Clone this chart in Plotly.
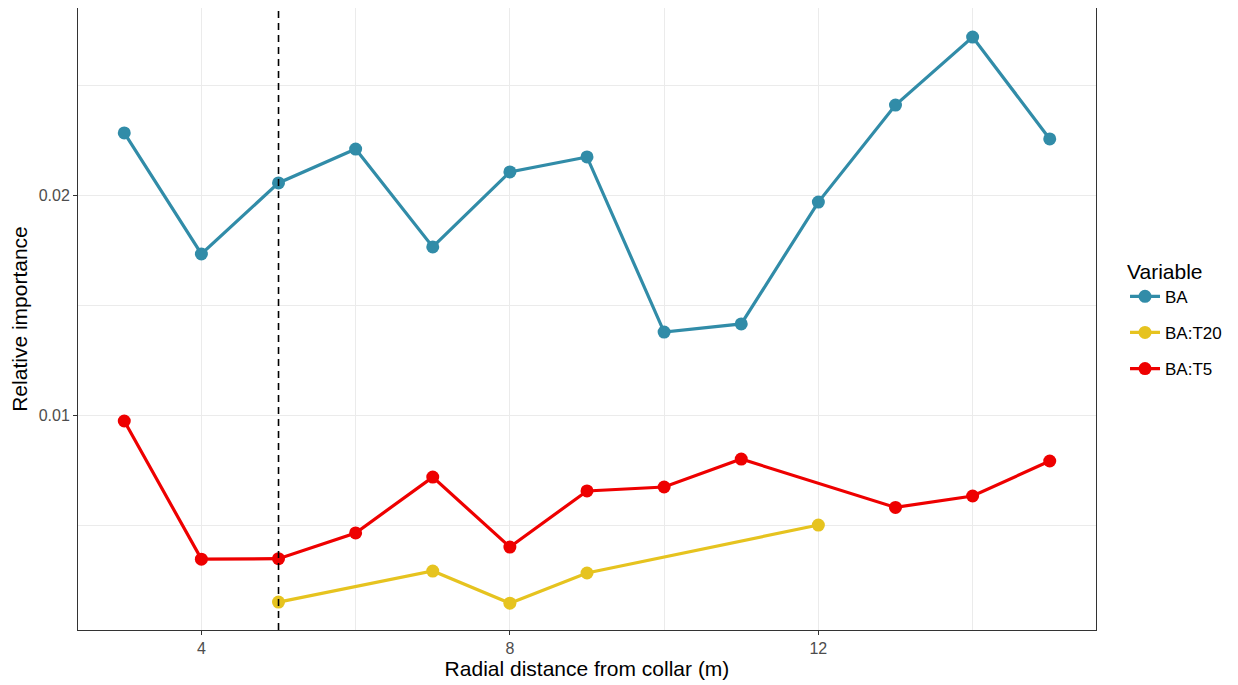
import plotly.graph_objects as go

x_ba = [3, 4, 5, 6, 7, 8, 9, 10, 11, 12, 13, 14, 15]
y_ba = [0.02282, 0.01732, 0.02055, 0.02209, 0.01764, 0.02105, 0.02173,
        0.01377, 0.01414, 0.01968, 0.02409, 0.02718, 0.02255]

x_t20 = [5, 7, 8, 9, 12]
y_t20 = [0.0015, 0.00291, 0.00145, 0.00282, 0.0050]

x_t5 = [3, 4, 5, 6, 7, 8, 9, 10, 11, 13, 14, 15]
y_t5 = [0.00973, 0.00345, 0.00347, 0.00464, 0.00718, 0.0040, 0.00655,
        0.00673, 0.0080, 0.0058, 0.00632, 0.00791]

series = [("BA", x_ba, y_ba, "#318CA8"),
          ("BA:T20", x_t20, y_t20, "#E6C31F"),
          ("BA:T5", x_t5, y_t5, "#EE0000")]

fig = go.Figure()
for name, xs, ys, col in series:
    fig.add_trace(go.Scatter(x=xs, y=ys, name=name, mode="lines+markers",
                             legendgroup=name,
                             line=dict(color=col, width=3.2),
                             marker=dict(color=col, size=13)))

fig.add_vline(x=5, line=dict(color="black", width=1.6, dash="7px,5px"))

axis_common = dict(showline=True, mirror=True, linecolor="#333333", linewidth=1,
                   ticks="outside", ticklen=4, tickcolor="#333333",
                   tickfont=dict(size=16, color="#4D4D4D"),
                   gridcolor="#EBEBEB", gridwidth=1, zeroline=False)

fig.update_layout(
    width=1238, height=685,
    margin=dict(l=70, r=150, t=0, b=63),
    plot_bgcolor="white", paper_bgcolor="white",
    font=dict(family="Liberation Sans, Arial, sans-serif", color="black"),
    xaxis=dict(range=[2.4, 15.6], tick0=0, dtick=4,
               title=dict(text="Radial distance from collar (m)", font=dict(size=21), standoff=4),
               minor=dict(dtick=2, tick0=0, showgrid=True, gridcolor="#EBEBEB", ticks=""),
               **axis_common),
    yaxis=dict(range=[0.00023, 0.0285], tick0=0, dtick=0.01, tickformat=".2f",
               title=dict(text="Relative importance", font=dict(size=21), standoff=6),
               minor=dict(dtick=0.005, tick0=0, showgrid=True, gridcolor="#EBEBEB", ticks=""),
               **axis_common),
    legend=dict(x=1.0285, y=0.5, yanchor="middle", xanchor="left",
                title=dict(text="Variable", font=dict(size=21)),
                font=dict(size=17), tracegroupgap=11, itemwidth=30),
)

fig.write_html("out.html")
